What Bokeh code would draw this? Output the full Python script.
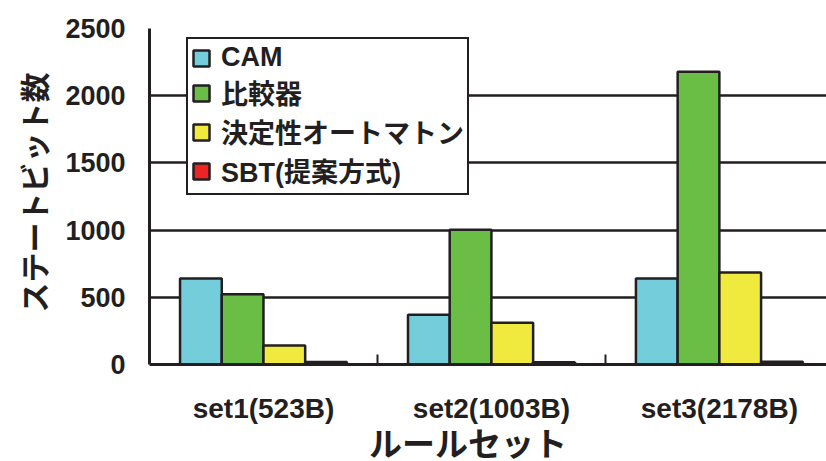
import numpy as np
from bokeh.plotting import figure
from bokeh.models import ColumnDataSource, Range1d, FixedTicker, Legend, Label, Title
from bokeh.transform import dodge
from bokeh.embed import file_html
from bokeh.resources import INLINE

categories = ["set1(523B)", "set2(1003B)", "set3(2178B)"]
series_names = ["CAM", "比較器", "決定性オートマトン", "SBT(提案方式)"]
cam = [640, 370, 640]
comparator = [523, 1003, 2178]
dfa = [141, 310, 684]
sbt = [18, 16, 20]
y_ticks = [0, 500, 1000, 1500, 2000, 2500]
x_title = "ルールセット"
y_title = "ステートビット数"

colors = ["#74cddb", "#6abd45", "#f0e93e", "#ee2324"]
edge = "#231f20"
jp_font = "'Liberation Sans', 'Noto Sans CJK JP'"

centers = np.arange(len(categories)) + 0.5
src = ColumnDataSource(dict(x=centers, cam=cam, comparator=comparator, dfa=dfa, sbt=sbt))

y_max = y_ticks[-1]
y_low = -722  # room below the zero line for category labels and the x title

p = figure(width=826, height=461, output_backend="svg", toolbar_location=None,
           x_range=Range1d(0, 2.97), y_range=Range1d(y_low, y_max),
           min_border_left=148, min_border_top=28, min_border_right=0, min_border_bottom=0)
p.outline_line_color = None
p.background_fill_color = "white"
p.border_fill_color = "white"

bw = 0.183
offsets = [-1.5 * bw, -0.5 * bw, 0.5 * bw, 1.5 * bw]
cols = ["cam", "comparator", "dfa", "sbt"]
renderers = []
for col, off, c in zip(cols, offsets, colors):
    r = p.vbar(x=dodge("x", off), top=col, width=bw, source=src,
               fill_color=c, line_color=edge, line_width=2.5)
    renderers.append(r)

legend = Legend(items=[(n, [r]) for n, r in zip(series_names, renderers)],
                location=(37, 266))
legend.label_text_font = jp_font
legend.label_text_font_style = "bold"
legend.label_text_font_size = "27px"
legend.label_text_color = edge
legend.glyph_width = 20
legend.glyph_height = 20
legend.label_standoff = 10
legend.label_height = 27
legend.spacing = 0
legend.padding = 3
legend.border_line_color = edge
legend.border_line_width = 2.5
legend.border_line_alpha = 1.0
legend.background_fill_color = "white"
legend.background_fill_alpha = 1.0
p.add_layout(legend, "center")

# y axis
p.yaxis.ticker = FixedTicker(ticks=y_ticks)
p.yaxis.bounds = (0, y_max)
p.yaxis.axis_line_width = 3
p.yaxis.axis_line_color = edge
p.yaxis.major_tick_line_color = None
p.yaxis.minor_tick_line_color = None
p.yaxis.major_label_text_font = "Liberation Sans"
p.yaxis.major_label_text_font_style = "bold"
p.yaxis.major_label_text_font_size = "27px"
p.yaxis.major_label_text_color = edge
p.yaxis.major_label_standoff = 18

ytitle = Title(text=y_title, align="right", offset=44, standoff=16,
               text_font="Noto Sans CJK JP", text_font_style="bold", text_font_size="30px",
               text_color=edge)
p.add_layout(ytitle, "left")

p.ygrid.ticker = FixedTicker(ticks=y_ticks)
p.ygrid.grid_line_color = edge
p.ygrid.grid_line_width = 2.5
p.xgrid.grid_line_color = None

# x axis drawn at the zero line
p.xaxis.fixed_location = 0
p.xaxis.ticker = FixedTicker(ticks=list(centers), minor_ticks=[1, 2])
p.xaxis.major_label_overrides = {float(c): n for c, n in zip(centers, categories)}
p.xaxis.axis_line_width = 3
p.xaxis.axis_line_color = edge
p.xaxis.major_tick_line_color = None
p.xaxis.minor_tick_line_color = edge
p.xaxis.minor_tick_line_width = 2
p.xaxis.minor_tick_in = 10
p.xaxis.minor_tick_out = 0
p.xaxis.major_label_text_font = "Liberation Sans"
p.xaxis.major_label_text_font_style = "bold"
p.xaxis.major_label_text_font_size = "28px"
p.xaxis.major_label_text_color = edge
p.xaxis.major_label_standoff = 23

title = Label(x=1.397, y=-578, text=x_title, text_align="center", text_baseline="middle",
              text_font="Noto Sans CJK JP", text_font_style="bold", text_font_size="33px",
              text_color=edge)
p.add_layout(title)

open("out.html", "w").write(file_html(p, INLINE))
